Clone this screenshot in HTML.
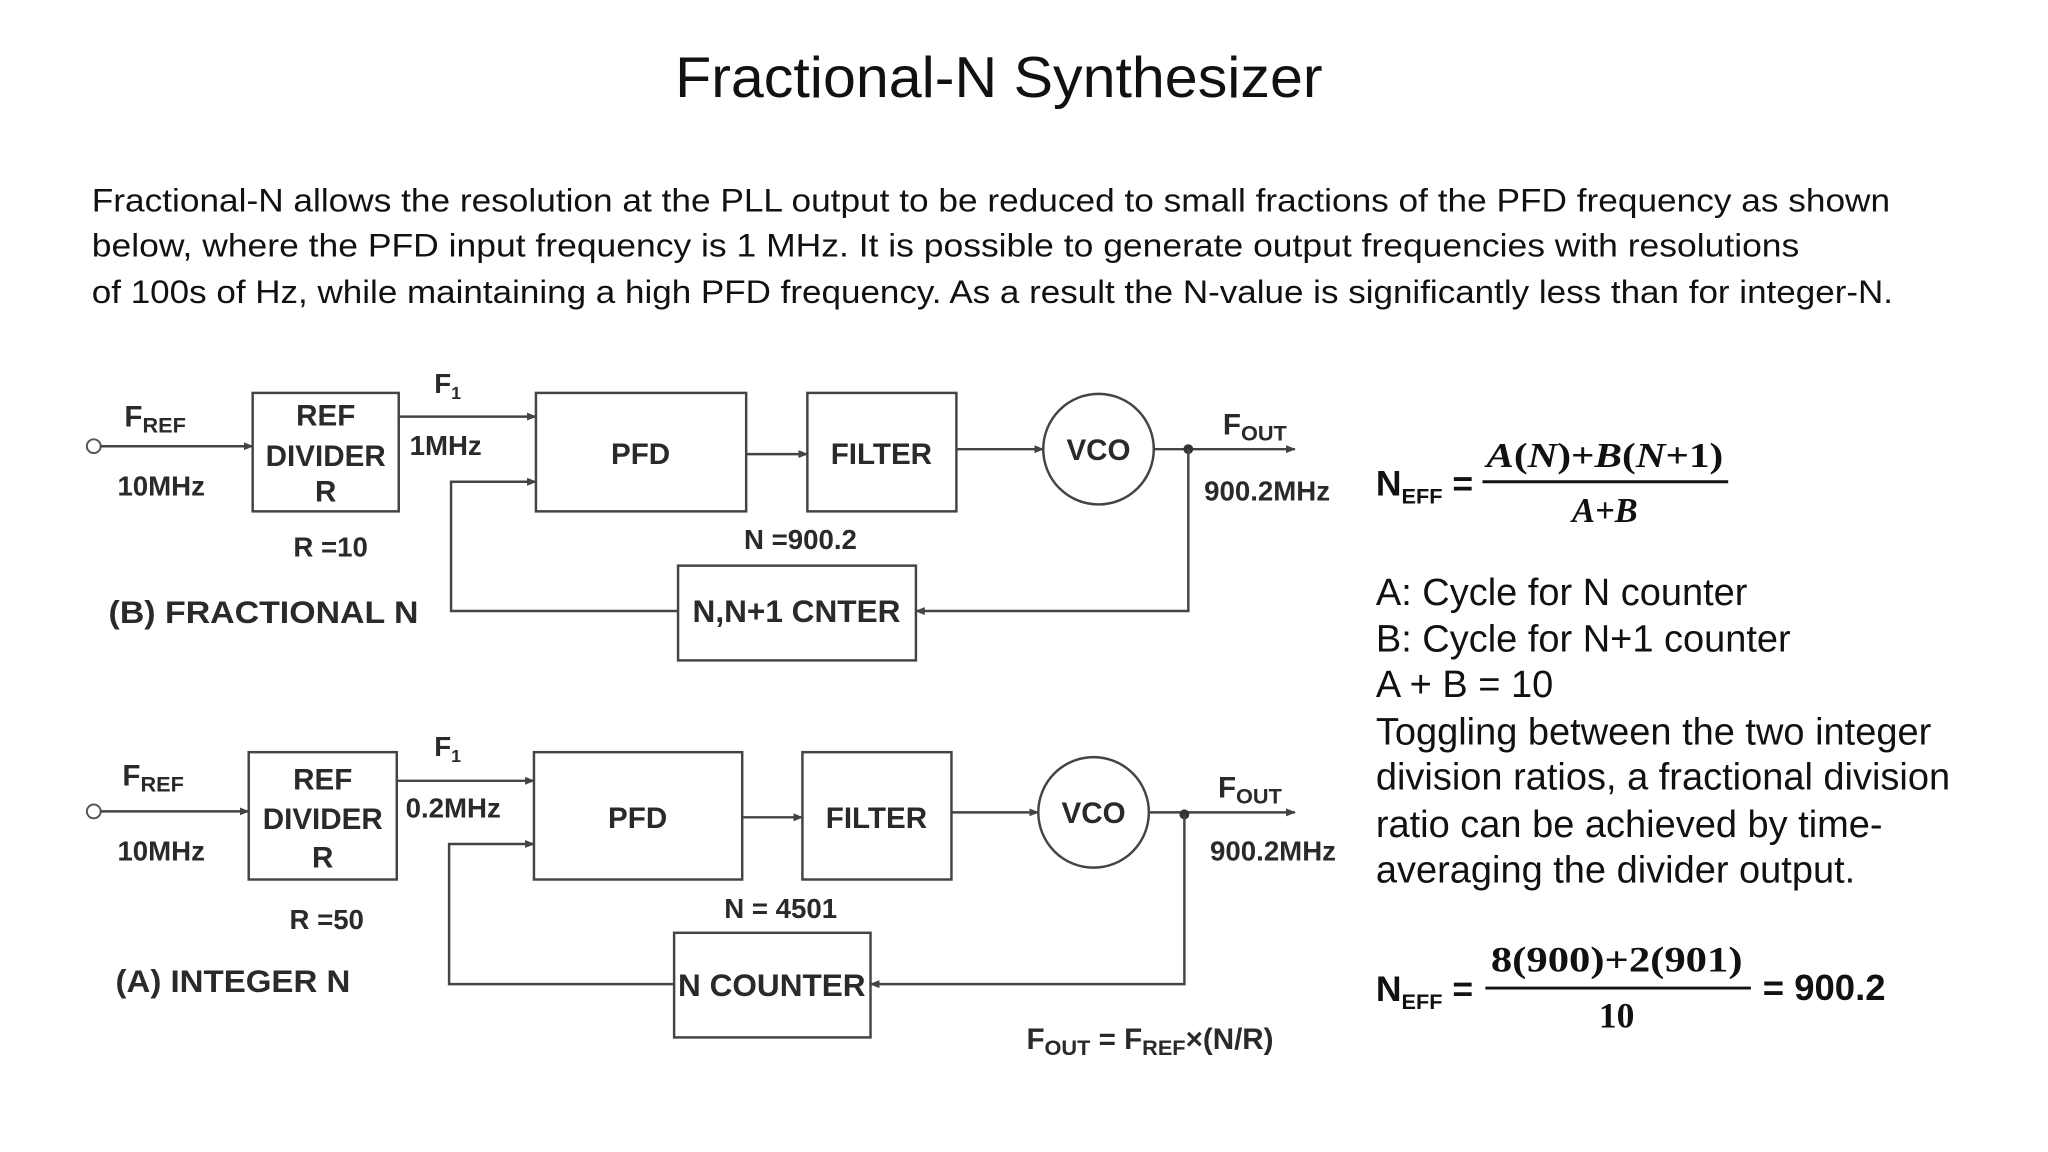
<!DOCTYPE html>
<html><head><meta charset="utf-8"><style>
html,body{margin:0;padding:0;background:#fff;}
svg{display:block;}
.d{font-family:"Liberation Sans Narrow","Liberation Sans",sans-serif;font-weight:bold;fill:#2a2a2a;}
.b{fill:none;stroke:#444;stroke-width:2.5;}
.l{stroke:#444;stroke-width:2.5;fill:none;}
.p{font-family:"Liberation Sans",sans-serif;font-size:33px;fill:#111;}
.r{font-family:"Liberation Sans",sans-serif;font-size:38.5px;fill:#111;}
.m{font-family:"Liberation Serif",serif;font-weight:bold;fill:#111;}
</style></head><body>
<svg width="2048" height="1152" viewBox="0 0 2075 1167" xmlns="http://www.w3.org/2000/svg">
<defs><marker id="a" markerWidth="10" markerHeight="10" refX="9" refY="5" orient="auto" markerUnits="userSpaceOnUse"><path d="M0,1 L10,5 L0,9 z" fill="#444"/></marker></defs>
<text x="1012" y="98" text-anchor="middle" font-family="Liberation Sans,sans-serif" font-size="58" fill="#111" textLength="656" lengthAdjust="spacingAndGlyphs">Fractional-N Synthesizer</text>
<text class="p" x="93" y="214" textLength="1822" lengthAdjust="spacingAndGlyphs">Fractional-N allows the resolution at the PLL output to be reduced to small fractions of the PFD frequency as shown</text>
<text class="p" x="93" y="260" textLength="1730" lengthAdjust="spacingAndGlyphs">below, where the PFD input frequency is 1 MHz. It is possible to generate output frequencies with resolutions</text>
<text class="p" x="93" y="307" textLength="1825" lengthAdjust="spacingAndGlyphs">of 100s of Hz, while maintaining a high PFD frequency. As a result the N-value is significantly less than for integer-N.</text>

<g>
<circle cx="95" cy="452" r="7" fill="#fff" stroke="#555" stroke-width="2"/>
<line class="l" x1="102" y1="452" x2="256" y2="452" marker-end="url(#a)"/>
<rect class="b" x="256" y="398" width="148" height="120"/>
<text class="d" x="330" y="431" font-size="30" text-anchor="middle">REF</text>
<text class="d" x="330" y="472" font-size="30" text-anchor="middle">DIVIDER</text>
<text class="d" x="330" y="508" font-size="30" text-anchor="middle">R</text>
<text class="d" x="126" y="432" font-size="30">F<tspan font-size="22" dy="6">REF</tspan></text>
<text class="d" x="119" y="502" font-size="28">10MHz</text>
<text class="d" x="440" y="398" font-size="28">F<tspan font-size="18" dy="6">1</tspan></text>
<text class="d" x="415" y="461" font-size="28">1MHz</text>
<line class="l" x1="404" y1="422" x2="543" y2="422" marker-end="url(#a)"/>
<rect class="b" x="543" y="398" width="213" height="120"/>
<text class="d" x="649" y="470" font-size="30" text-anchor="middle">PFD</text>
<polyline class="l" points="687,619 457,619 457,488 543,488" marker-end="url(#a)"/>
<line class="l" x1="756" y1="460" x2="818" y2="460" marker-end="url(#a)"/>
<rect class="b" x="818" y="398" width="151" height="120"/>
<text class="d" x="893" y="470" font-size="30" text-anchor="middle">FILTER</text>
<line class="l" x1="969" y1="455" x2="1057" y2="455" marker-end="url(#a)"/>
<circle cx="1113" cy="455" r="56" class="b"/>
<text class="d" x="1113" y="466" font-size="30" text-anchor="middle">VCO</text>
<line class="l" x1="1169" y1="455" x2="1312" y2="455" marker-end="url(#a)"/>
<circle cx="1204" cy="455" r="5" fill="#333"/>
<polyline class="l" points="1204,455 1204,619 928,619" marker-end="url(#a)"/>
<text class="d" x="1239" y="440" font-size="30">F<tspan font-size="22" dy="6">OUT</tspan></text>
<text class="d" x="1220" y="507" font-size="28">900.2MHz</text>
<rect class="b" x="687" y="573" width="241" height="96"/>
<text class="d" x="807" y="630" font-size="32" text-anchor="middle">N,N+1 CNTER</text>
<text class="d" x="811" y="556" font-size="28" text-anchor="middle">N =900.2</text>
<text class="d" x="335" y="564" font-size="28" text-anchor="middle">R =10</text>
<text class="d" x="110" y="631" font-size="32" textLength="314" lengthAdjust="spacingAndGlyphs">(B) FRACTIONAL N</text>
</g>

<g>
<circle cx="95" cy="822" r="7" fill="#fff" stroke="#555" stroke-width="2"/>
<line class="l" x1="102" y1="822" x2="252" y2="822" marker-end="url(#a)"/>
<rect class="b" x="252" y="762" width="150" height="129"/>
<text class="d" x="327" y="800" font-size="30" text-anchor="middle">REF</text>
<text class="d" x="327" y="840" font-size="30" text-anchor="middle">DIVIDER</text>
<text class="d" x="327" y="879" font-size="30" text-anchor="middle">R</text>
<text class="d" x="124" y="796" font-size="30">F<tspan font-size="22" dy="6">REF</tspan></text>
<text class="d" x="119" y="872" font-size="28">10MHz</text>
<text class="d" x="440" y="766" font-size="28">F<tspan font-size="18" dy="6">1</tspan></text>
<text class="d" x="411" y="828" font-size="28">0.2MHz</text>
<line class="l" x1="402" y1="791" x2="541" y2="791" marker-end="url(#a)"/>
<rect class="b" x="541" y="762" width="211" height="129"/>
<text class="d" x="646" y="839" font-size="30" text-anchor="middle">PFD</text>
<polyline class="l" points="683,997 455,997 455,855 541,855" marker-end="url(#a)"/>
<line class="l" x1="752" y1="828" x2="813" y2="828" marker-end="url(#a)"/>
<rect class="b" x="813" y="762" width="151" height="129"/>
<text class="d" x="888" y="839" font-size="30" text-anchor="middle">FILTER</text>
<line class="l" x1="964" y1="823" x2="1052" y2="823" marker-end="url(#a)"/>
<circle cx="1108" cy="823" r="56" class="b"/>
<text class="d" x="1108" y="834" font-size="30" text-anchor="middle">VCO</text>
<line class="l" x1="1164" y1="823" x2="1312" y2="823" marker-end="url(#a)"/>
<circle cx="1200" cy="825" r="5" fill="#333"/>
<polyline class="l" points="1200,825 1200,997 882,997" marker-end="url(#a)"/>
<text class="d" x="1234" y="808" font-size="30">F<tspan font-size="22" dy="6">OUT</tspan></text>
<text class="d" x="1226" y="872" font-size="28">900.2MHz</text>
<rect class="b" x="683" y="945" width="199" height="106"/>
<text class="d" x="782" y="1009" font-size="32" text-anchor="middle" textLength="190" lengthAdjust="spacingAndGlyphs">N COUNTER</text>
<text class="d" x="791" y="930" font-size="28" text-anchor="middle">N = 4501</text>
<text class="d" x="331" y="941" font-size="28" text-anchor="middle">R =50</text>
<text class="d" x="117" y="1005" font-size="32" textLength="238" lengthAdjust="spacingAndGlyphs">(A) INTEGER N</text>
<text class="d" x="1040" y="1063" font-size="30">F<tspan font-size="22" dy="6">OUT</tspan><tspan dy="-6"> = F</tspan><tspan font-size="22" dy="6">REF</tspan><tspan dy="-6">×(N/R)</tspan></text>
</g>

<text x="1394" y="502" font-family="Liberation Sans,sans-serif" font-weight="bold" font-size="36" fill="#111">N<tspan font-size="22" dy="8">EFF</tspan><tspan dy="-8"> =</tspan></text>
<line x1="1502" y1="488" x2="1751" y2="488" stroke="#111" stroke-width="3"/>
<text class="m" x="1626" y="473" font-size="35" text-anchor="middle" textLength="240" lengthAdjust="spacingAndGlyphs"><tspan font-style="italic">A</tspan>(<tspan font-style="italic">N</tspan>)+<tspan font-style="italic">B</tspan>(<tspan font-style="italic">N</tspan>+1)</text>
<text class="m" x="1626" y="529" font-size="35" text-anchor="middle" font-style="italic">A+B</text>

<text class="r" x="1394" y="613">A: Cycle for N counter</text>
<text class="r" x="1394" y="660">B: Cycle for N+1 counter</text>
<text class="r" x="1394" y="706">A + B = 10</text>
<text class="r" x="1394" y="754">Toggling between the two integer</text>
<text class="r" x="1394" y="800">division ratios, a fractional division</text>
<text class="r" x="1394" y="848">ratio can be achieved by time-</text>
<text class="r" x="1394" y="894">averaging the divider output.</text>

<text x="1394" y="1014" font-family="Liberation Sans,sans-serif" font-weight="bold" font-size="36" fill="#111">N<tspan font-size="22" dy="8">EFF</tspan><tspan dy="-8"> =</tspan></text>
<line x1="1505" y1="1001" x2="1774" y2="1001" stroke="#111" stroke-width="3"/>
<text class="m" x="1638" y="984" font-size="36" text-anchor="middle" textLength="255" lengthAdjust="spacingAndGlyphs">8(900)+2(901)</text>
<text class="m" x="1638" y="1041" font-size="36" text-anchor="middle">10</text>
<text x="1786" y="1013" font-family="Liberation Sans,sans-serif" font-weight="bold" font-size="37" fill="#111">= 900.2</text>
</svg>
</body></html>
